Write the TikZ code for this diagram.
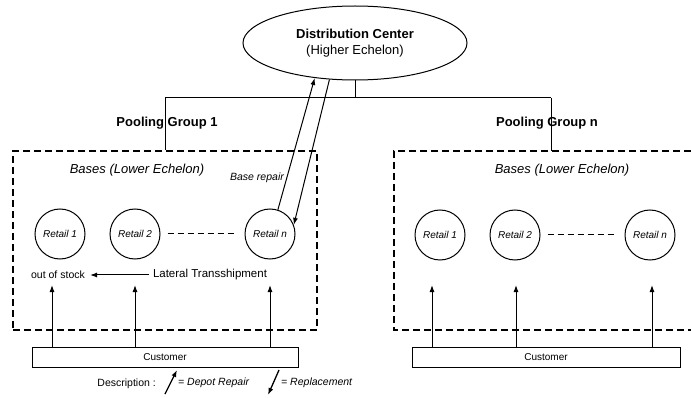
\documentclass[tikz,border=0pt]{standalone}
\usepackage{fontspec}
\setmainfont{Liberation Sans}
\usetikzlibrary{arrows.meta,shapes.geometric}
\begin{document}
\begin{tikzpicture}[x=1pt,y=-1pt,
  retail/.style={circle,draw,line width=1pt,minimum size=50pt,inner sep=0pt,font=\itshape\fontsize{10}{11}\selectfont},
  arr/.style={line width=1pt,-{Latex[length=7pt,width=5pt]}},
  grp/.style={draw,line width=1.1pt,dash pattern=on 7pt off 4pt,inner sep=0pt},
  cust/.style={draw,line width=1pt,minimum height=20pt,inner sep=0pt,font=\fontsize{10}{11}\selectfont},
  lbl/.style={font=\bfseries\fontsize{13}{15}\selectfont},
  bases/.style={font=\itshape\fontsize{13}{15}\selectfont},
  small/.style={font=\fontsize{10.5}{12}\selectfont,inner sep=1pt},
]
\useasboundingbox (0,0) rectangle (691,398);

% Distribution center
\node[ellipse,draw,line width=1pt,minimum width=224pt,minimum height=74pt,align=center,font=\fontsize{13}{16}\selectfont] (dc) at (355,43)
  {\textbf{Distribution Center}\\(Higher Echelon)};

\coordinate (hl) at (165,98);
\coordinate (hr) at (551,98);

% group boxes
\node[grp,minimum width=304pt,minimum height=179pt] (box1) at (165,240.5) {};
\draw[line width=1.1pt,dash pattern=on 7pt off 4pt] (691,151) -- (394,151) -- (394,330) -- (691,330);
\coordinate (box2top) at (551,151);

\draw[line width=1pt] (hl) -- (hr);
\draw[line width=1pt] (dc.south) -- (dc.south |- hl);
\draw[line width=1pt] (hl) -- (box1.north -| hl);
\draw[line width=1pt] (hr) -- (box2top);

\node[lbl] (pg1) at (167,123) {Pooling Group 1};
\node[lbl] (pgn) at (547,123) {Pooling Group n};

\node[bases] (b1) at (137,170) {Bases (Lower Echelon)};
\node[bases] (b2) at (562,170) {Bases (Lower Echelon)};

% retails left
\node[retail] (r11) at (60,234) {Retail 1};
\node[retail] (r12) at (135,234) {Retail 2};
\node[retail] (r1n) at (270,234) {Retail n};
\draw[line width=1pt,dash pattern=on 6pt off 4pt] ([xshift=7pt]r12.east) -- ([xshift=-10pt]r1n.west);

% retails right
\node[retail] (r21) at (440,235) {Retail 1};
\node[retail] (r22) at (515,235) {Retail 2};
\node[retail] (r2n) at (650,235) {Retail n};
\draw[line width=1pt,dash pattern=on 6pt off 4pt] ([xshift=7pt]r22.east) -- ([xshift=-10pt]r2n.west);

% depot repair / replacement between DC and Retail n
\draw[arr] (r1n.72) -- (dc.221);
\draw[arr] (dc.235) -- (r1n.21);
\node[font=\itshape\fontsize{10.5}{12}\selectfont] (br) at (257,178) {Base repair};

% lateral transshipment
\node[small] (oos) at (58,275) {out of stock};
\node[font=\fontsize{11.5}{13}\selectfont,inner sep=1pt] (lat) at (210,275) {Lateral Transshipment};
\draw[arr] ([xshift=-3pt]lat.west) -- ([xshift=4pt]oos.east);

% customers
\node[cust,minimum width=266pt] (c1) at (165,357) {Customer};
\node[cust,minimum width=268pt] (c2) at (546,357) {Customer};

\coordinate (u11) at (52,285);
\coordinate (u12) at (135,285);
\coordinate (u1n) at (270,285);
\coordinate (u21) at (432,285);
\coordinate (u22) at (516,285);
\coordinate (u2n) at (652,285);
\foreach \u in {u11,u12,u1n}{\draw[arr] (c1.north -| \u) -- (\u);}
\foreach \u in {u21,u22,u2n}{\draw[arr] (c2.north -| \u) -- (\u);}

% legend
\node[font=\fontsize{10.5}{12}\selectfont,anchor=east,inner sep=0pt] (desc) at (156,384) {Description :};
\coordinate (la0) at (165,394);
\coordinate (la1) at (177,370);
\draw[line width=1.3pt,-{Latex[length=7pt,width=5pt]}] (la0) -- (la1);
\node[font=\itshape\fontsize{10.5}{12}\selectfont,anchor=west,inner sep=0pt] (dr) at (178,383) {= Depot Repair};
\coordinate (lb0) at (279,370);
\coordinate (lb1) at (268,395);
\draw[line width=1.3pt,-{Latex[length=7pt,width=5pt]}] (lb0) -- (lb1);
\node[font=\itshape\fontsize{10.5}{12}\selectfont,anchor=west,inner sep=0pt] (rp) at (281,383) {= Replacement};
\end{tikzpicture}
\end{document}
